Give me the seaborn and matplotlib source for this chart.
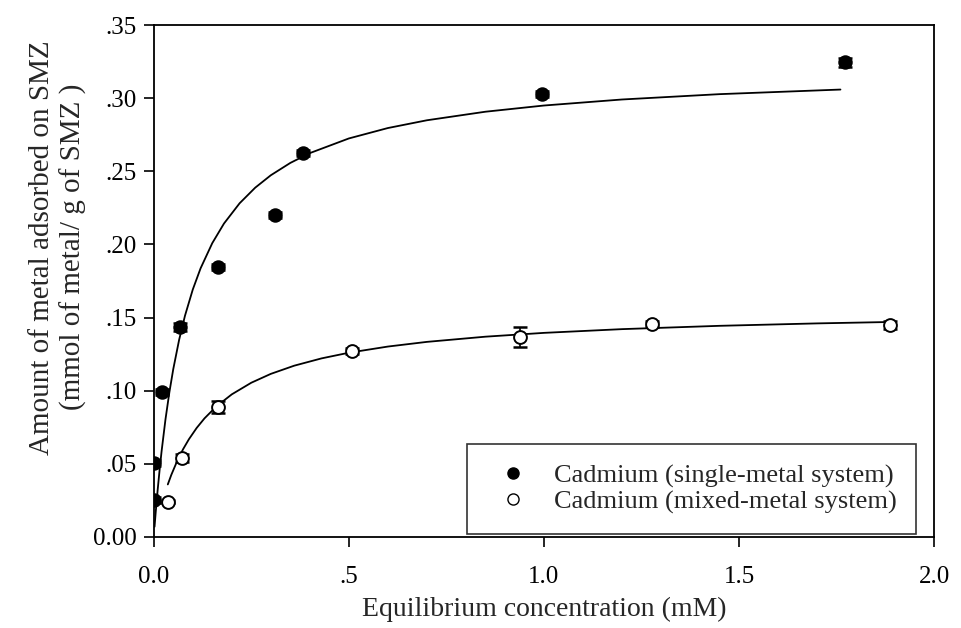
import numpy as np
import pandas as pd
import seaborn as sns
import matplotlib.pyplot as plt
from matplotlib.lines import Line2D

single_x = [0.0, 0.0, 0.02, 0.067, 0.164, 0.31, 0.382, 0.995, 1.772]
single_y = [0.025, 0.0506, 0.099, 0.1435, 0.1846, 0.220, 0.2625, 0.303, 0.3247]
single_err = [0.002, 0.002, 0.002, 0.003, 0.002, 0.002, 0.002, 0.002, 0.003]

mixed_x = [0.036, 0.072, 0.165, 0.507, 0.938, 1.277, 1.887]
mixed_y = [0.024, 0.054, 0.089, 0.127, 0.1367, 0.1456, 0.145]
mixed_err = [0.001, 0.003, 0.004, 0.002, 0.007, 0.002, 0.003]

# fitted curves
single_fit_x = [0.002, 0.005, 0.01, 0.015, 0.02, 0.03, 0.04, 0.05, 0.065, 0.08,
                0.1, 0.12, 0.15, 0.18, 0.22, 0.26, 0.3, 0.35, 0.4, 0.5, 0.6,
                0.7, 0.85, 1.0, 1.2, 1.45, 1.76]
single_fit_y = [0.00698, 0.01691, 0.03213, 0.04590, 0.05843, 0.08034, 0.09889,
                0.11478, 0.13479, 0.15126, 0.16918, 0.18369, 0.20093, 0.21433,
                0.22817, 0.23884, 0.24733, 0.25577, 0.26248, 0.27250, 0.27962,
                0.28493, 0.29078, 0.29502, 0.29914, 0.30279, 0.30594]
mixed_fit_x = [0.036, 0.045, 0.06, 0.075, 0.09, 0.11, 0.13, 0.16, 0.2, 0.25,
               0.3, 0.36, 0.43, 0.5, 0.6, 0.7, 0.85, 1.0, 1.2, 1.45, 1.7, 1.88]
mixed_fit_y = [0.03591, 0.04246, 0.05191, 0.05992, 0.06678, 0.07455, 0.08108,
               0.08913, 0.09751, 0.10546, 0.11151, 0.11711, 0.12210, 0.12597,
               0.13019, 0.13339, 0.13694, 0.13955, 0.14210, 0.14437, 0.14603,
               0.14696]

x_ticks = [0.0, 0.5, 1.0, 1.5, 2.0]
x_labels = ['0.0', '.5', '1.0', '1.5', '2.0']
y_ticks = [0.0, 0.05, 0.10, 0.15, 0.20, 0.25, 0.30, 0.35]
y_labels = ['0.00', '.05', '.10', '.15', '.20', '.25', '.30', '.35']

sns.set_style('white')
plt.rcParams['font.family'] = ['Liberation Serif', 'DejaVu Serif']

fig = plt.figure(figsize=(9.61, 6.28), dpi=100)
ax = fig.add_axes([0.160, 0.145, 0.812, 0.815])

single = pd.DataFrame({'x': single_x, 'y': single_y})
mixed = pd.DataFrame({'x': mixed_x, 'y': mixed_y})

sns.lineplot(x=single_fit_x, y=single_fit_y, color='black', lw=1.3, ax=ax)
sns.lineplot(x=mixed_fit_x, y=mixed_fit_y, color='black', lw=1.3, ax=ax)

ax.errorbar(single_x, single_y, yerr=single_err, fmt='none', ecolor='black',
            elinewidth=1.2, capsize=5, capthick=1.8, zorder=3)
ax.errorbar(mixed_x, mixed_y, yerr=mixed_err, fmt='none', ecolor='black',
            elinewidth=1.2, capsize=5, capthick=1.8, zorder=3)

sns.scatterplot(data=single, x='x', y='y', color='black', edgecolor='black',
                s=85, linewidth=1.2, ax=ax, zorder=4)
sns.scatterplot(data=mixed, x='x', y='y', color='white', edgecolor='black',
                s=85, linewidth=1.4, ax=ax, zorder=4)

ax.set_xlim(0, 2.0)
ax.set_ylim(0, 0.35)
ax.set_xticks(x_ticks)
ax.set_xticklabels(x_labels)
ax.set_yticks(y_ticks)
ax.set_yticklabels(y_labels)
ax.tick_params(axis='both', which='both', direction='out', length=7, width=1.2,
               labelsize=18, color='black', labelcolor='black',
               bottom=True, left=True, top=False, right=False)
ax.tick_params(axis='x', pad=14)
ax.tick_params(axis='y', pad=5)
for s in ax.spines.values():
    s.set_visible(True)
    s.set_color('black')
    s.set_linewidth(1.3)

ax.set_xlabel('Equilibrium concentration (mM)', fontsize=20, labelpad=6)
ax.set_ylabel('Amount of metal adsorbed on SMZ\n(mmol of metal/ g of SMZ )',
              fontsize=21, linespacing=1.25)
ax.yaxis.set_label_coords(-0.085, 0.566)

handles = [
    Line2D([], [], marker='o', ls='none', color='black', markersize=8),
    Line2D([], [], marker='o', ls='none', markerfacecolor='white',
           markeredgecolor='black', markersize=8),
]
leg = ax.legend(handles, ['Cadmium (single-metal system)', 'Cadmium (mixed-metal system)'],
                loc='lower right', bbox_to_anchor=(0.977, 0.006), borderaxespad=0,
                fontsize=19, frameon=True, fancybox=False, edgecolor='black',
                handletextpad=0.55, borderpad=0.75, labelspacing=0.1, handlelength=2.0)
leg.get_frame().set_linewidth(1.2)

fig.savefig('out.png', dpi=100, facecolor='white')
